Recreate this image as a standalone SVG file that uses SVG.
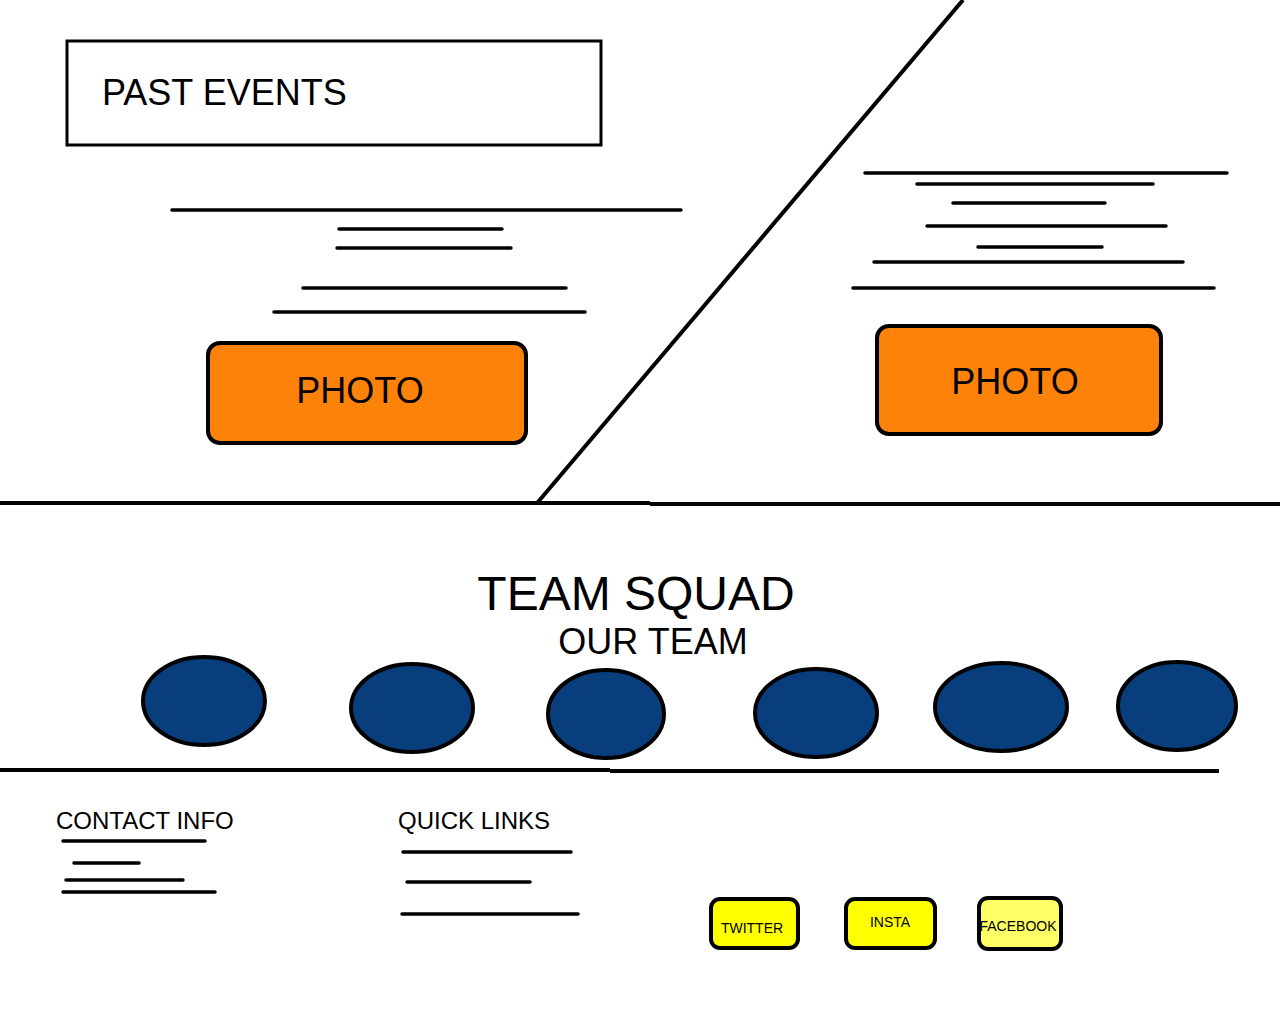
<svg xmlns="http://www.w3.org/2000/svg" width="1280" height="1024" viewBox="0 0 1280 1024">
<style>
.ln{stroke:#000;stroke-width:3.5;fill:none;stroke-linecap:round}
.thick{stroke:#000;stroke-width:4;fill:none}
.photo{fill:#fd8209;stroke:#000;stroke-width:4}
.member{fill:#083e7c;stroke:#000;stroke-width:4}
.btn{stroke:#000;stroke-width:4}
.t{font-family:"Liberation Sans",Arial,sans-serif;fill:#000}
</style>
<rect width="1280" height="1024" fill="#fff"/>
<g id="dividers">
<line class="thick" x1="538" y1="502" x2="963" y2="0"/>
<line class="thick" x1="0" y1="503" x2="650" y2="503"/>
<line class="thick" x1="650" y1="504" x2="1280" y2="504"/>
<line class="thick" x1="0" y1="770" x2="610" y2="770"/>
<line class="thick" x1="610" y1="771" x2="1219" y2="771"/>
</g>
<g id="past-events">
<rect x="67" y="41" width="534" height="104" fill="#fff" stroke="#000" stroke-width="3"/>
<text class="t" x="102" y="105" font-size="36">PAST EVENTS</text>
</g>
<g id="text-lines-left">
<line class="ln" x1="172" y1="210" x2="681" y2="210"/>
<line class="ln" x1="339" y1="229" x2="502" y2="229"/>
<line class="ln" x1="337" y1="248" x2="511" y2="248"/>
<line class="ln" x1="303" y1="288" x2="566" y2="288"/>
<line class="ln" x1="274" y1="312" x2="585" y2="312"/>
</g>
<g id="text-lines-right">
<line class="ln" x1="865" y1="173" x2="1227" y2="173"/>
<line class="ln" x1="917" y1="184" x2="1153" y2="184"/>
<line class="ln" x1="953" y1="203" x2="1105" y2="203"/>
<line class="ln" x1="927" y1="226" x2="1166" y2="226"/>
<line class="ln" x1="978" y1="247" x2="1102" y2="247"/>
<line class="ln" x1="874" y1="262" x2="1183" y2="262"/>
<line class="ln" x1="853" y1="288" x2="1214" y2="288"/>
</g>
<g id="photo-1">
<rect class="photo" x="208" y="343" width="318" height="100" rx="12"/>
<text class="t" x="360" y="403" font-size="36" text-anchor="middle">PHOTO</text>
</g>
<g id="photo-2">
<rect class="photo" x="877" y="326" width="284" height="108" rx="12"/>
<text class="t" x="1015" y="394" font-size="36" text-anchor="middle">PHOTO</text>
</g>
<g id="team-title">
<text class="t" x="636" y="610" font-size="48" text-anchor="middle">TEAM SQUAD</text>
<text class="t" x="653" y="654" font-size="36" text-anchor="middle">OUR TEAM</text>
</g>
<g id="members">
<ellipse class="member" cx="204" cy="701" rx="61" ry="44"/>
<ellipse class="member" cx="412" cy="708" rx="61" ry="44"/>
<ellipse class="member" cx="606" cy="714" rx="58" ry="44"/>
<ellipse class="member" cx="816" cy="713" rx="61" ry="44"/>
<ellipse class="member" cx="1001" cy="707" rx="66" ry="44"/>
<ellipse class="member" cx="1177" cy="706" rx="59" ry="44"/>
</g>
<g id="contact-info">
<text class="t" x="56" y="829" font-size="24">CONTACT INFO</text>
<line class="ln" x1="63" y1="841" x2="205" y2="841"/>
<line class="ln" x1="74" y1="863" x2="139" y2="863"/>
<line class="ln" x1="66" y1="880" x2="183" y2="880"/>
<line class="ln" x1="63" y1="892" x2="215" y2="892"/>
</g>
<g id="quick-links">
<text class="t" x="398" y="829" font-size="24">QUICK LINKS</text>
<line class="ln" x1="403" y1="852" x2="571" y2="852"/>
<line class="ln" x1="407" y1="882" x2="530" y2="882"/>
<line class="ln" x1="402" y1="914" x2="578" y2="914"/>
</g>
<g id="twitter">
<rect class="btn" x="711" y="899" width="87" height="49" rx="9" fill="#ffff00"/>
<text class="t" x="752" y="933" font-size="14" text-anchor="middle">TWITTER</text>
</g>
<g id="insta">
<rect class="btn" x="846" y="899" width="89" height="49" rx="9" fill="#ffff00"/>
<text class="t" x="890" y="927" font-size="14" text-anchor="middle">INSTA</text>
</g>
<g id="facebook">
<rect class="btn" x="979" y="898" width="82" height="51" rx="9" fill="#ffff66"/>
<text class="t" x="1018" y="931" font-size="14" text-anchor="middle">FACEBOOK</text>
</g>
</svg>
